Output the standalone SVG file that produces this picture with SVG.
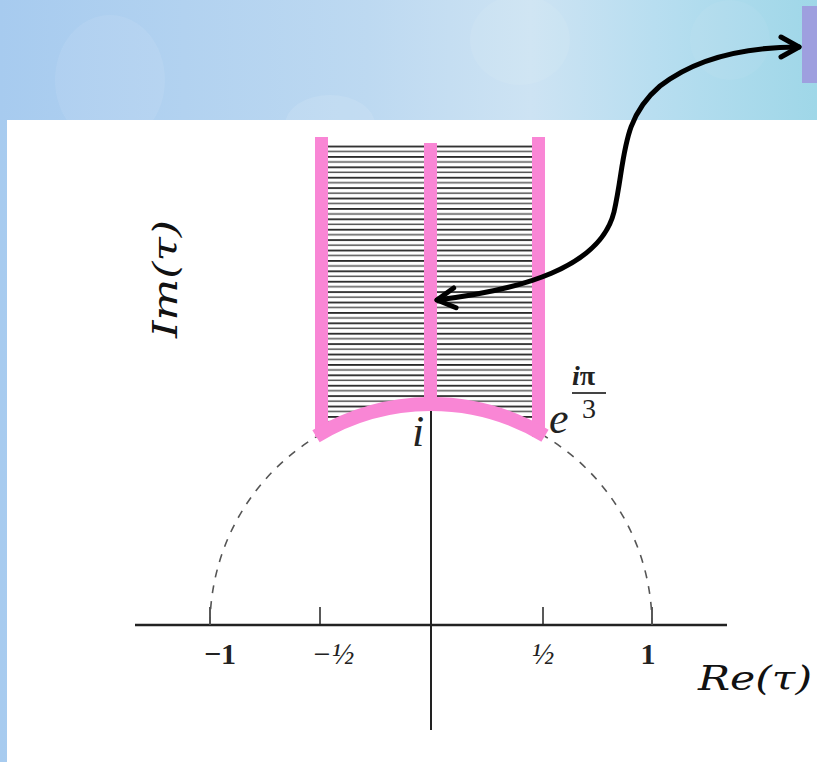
<svg xmlns="http://www.w3.org/2000/svg" width="817" height="762" viewBox="0 0 817 762">
<defs>
<linearGradient id="bg" x1="0" y1="0" x2="1" y2="0">
<stop offset="0" stop-color="#a7cbef"/>
<stop offset="0.45" stop-color="#bdd9f1"/>
<stop offset="0.65" stop-color="#cde3f3"/>
<stop offset="0.8" stop-color="#b8def0"/>
<stop offset="1" stop-color="#9fd7e8"/>
</linearGradient>
<pattern id="hatch" patternUnits="userSpaceOnUse" width="10" height="10.4">
<rect x="0" y="0" width="10" height="10.4" fill="#ffffff"/>
<rect x="0" y="0" width="10" height="1.8" fill="#2a2a2a"/>
<rect x="0" y="5.2" width="10" height="1.5" fill="#555555"/>
</pattern>
<marker id="chev" viewBox="-26 -14 30 28" refX="0" refY="0" markerUnits="userSpaceOnUse" markerWidth="30" markerHeight="28" orient="auto-start-reverse">
<path d="M-18,-10 L0,0 L-18,10" fill="none" stroke="#000" stroke-width="5" stroke-linecap="round" stroke-linejoin="round"/>
</marker>
<style>
.pink{fill:#f986d5}
.pinkst{fill:none;stroke:#f986d5;stroke-width:14;stroke-linecap:butt}
.ax{stroke:#222;fill:none}
.num{font-family:"Liberation Serif",serif;fill:#222}
.math{font-family:"DejaVu Serif","Liberation Serif",serif;font-style:italic;fill:#111}
.lab{font-family:"Liberation Serif",serif;font-style:italic;fill:#222}
</style>
</defs>
<g id="background">
<rect x="0" y="0" width="817" height="762" fill="url(#bg)"/>
<ellipse cx="110" cy="80" rx="55" ry="65" fill="#ffffff" opacity="0.08"/>
<ellipse cx="330" cy="125" rx="45" ry="30" fill="#ffffff" opacity="0.1"/>
<ellipse cx="520" cy="40" rx="50" ry="45" fill="#ffffff" opacity="0.07"/>
<ellipse cx="730" cy="40" rx="40" ry="40" fill="#ffffff" opacity="0.05"/>
<rect x="7" y="120" width="810" height="642" fill="#ffffff"/>
</g>
<g id="purple-box">
<rect x="802" y="6" width="15" height="77" fill="#9e9fdf"/>
</g>
<g id="axes">
<line class="ax" x1="135" y1="625" x2="727" y2="625" stroke-width="2.5"/>
<line class="ax" x1="431" y1="405" x2="431" y2="730" stroke-width="2"/>
<line class="ax" x1="210" y1="607" x2="210" y2="625" stroke-width="1.5"/>
<line class="ax" x1="320" y1="607" x2="320" y2="625" stroke-width="1.5"/>
<line class="ax" x1="543" y1="607" x2="543" y2="625" stroke-width="1.5"/>
<line class="ax" x1="652" y1="607" x2="652" y2="625" stroke-width="1.5"/>
<path d="M210,625 A221,221 0 0 1 321,434" fill="none" stroke="#555" stroke-width="1.6" stroke-dasharray="8,8"/>
<path d="M541,434 A221,221 0 0 1 652,625" fill="none" stroke="#555" stroke-width="1.6" stroke-dasharray="8,8"/>
</g>
<g id="fundamental-domain">
<path d="M321,144 H539 V434 A221,221 0 0 0 321,434 Z" fill="url(#hatch)"/>
<rect class="pink" x="315" y="137" width="13" height="300"/>
<rect class="pink" x="532" y="137" width="13" height="300"/>
<rect class="pink" x="424" y="143" width="13" height="262"/>
<path class="pinkst" d="M316,436.3 A221,221 0 0 1 545,435.7"/>
</g>
<g id="labels">
<text class="lab" x="412" y="446" font-size="44">i</text>
<text class="lab" x="549" y="433" font-size="44">e</text>
<text class="lab" x="572" y="385" font-size="28" font-weight="bold">i<tspan font-style="normal">π</tspan></text>
<line x1="572" y1="393" x2="606" y2="393" stroke="#444" stroke-width="1.8"/>
<text class="num" x="589" y="418" font-size="28" text-anchor="middle">3</text>
<text class="num" x="220" y="664" font-size="30" font-weight="bold" text-anchor="middle">−1</text>
<text class="num" x="333" y="664" font-size="30" font-style="italic" text-anchor="middle">−½</text>
<text class="num" x="543" y="664" font-size="30" font-style="italic" text-anchor="middle">½</text>
<text class="num" x="648" y="664" font-size="30" font-weight="bold" text-anchor="middle">1</text>
<text class="math" x="698" y="690" font-size="33" textLength="114" lengthAdjust="spacingAndGlyphs">Re(τ)</text>
<text class="math" transform="translate(177,338) rotate(-90)" x="0" y="0" font-size="34" textLength="118" lengthAdjust="spacingAndGlyphs">Im(τ)</text>
</g>
<g id="connectors">
<path d="M437,300 C520,290 600,268 614,212 C626,160 620,120 660,86 C700,55 750,47 799,47" fill="none" stroke="#000" stroke-width="5" stroke-linecap="round" marker-start="url(#chev)" marker-end="url(#chev)"/>
</g>
</svg>
